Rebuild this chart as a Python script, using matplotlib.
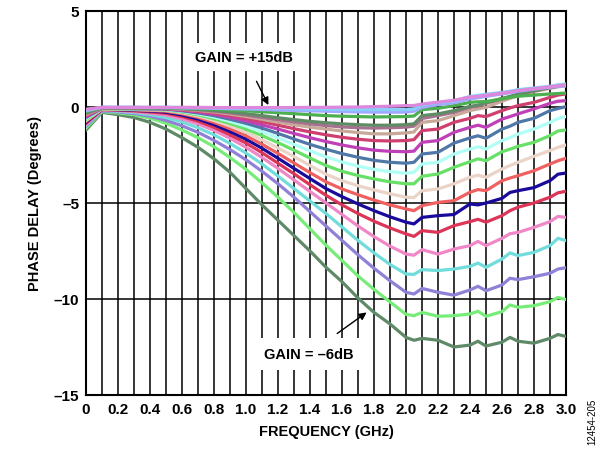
import numpy as np
import matplotlib.pyplot as plt

plt.rcParams['font.family'] = ['Liberation Sans', 'DejaVu Sans']

# frequency points (GHz)
freq = [0.0, 0.1, 0.2, 0.3, 0.4, 0.5, 0.6, 0.7, 0.8, 0.9, 1.0, 1.1, 1.2, 1.3, 1.4, 1.5,
        1.6, 1.7, 1.8, 1.9, 2.0, 2.05, 2.1, 2.2, 2.3, 2.4, 2.45, 2.5, 2.6, 2.65, 2.7,
        2.8, 2.9, 2.95, 3.0]

# phase delay (degrees), one list per gain setting, +15 dB down to -6 dB
g15 = [-0.12, -0.02, -0.02, -0.02, -0.02, -0.02, -0.02, -0.02, -0.03, -0.03, -0.03, -0.03, -0.03, -0.03, -0.02, -0.02,
       -0.01, 0.0, 0.02, 0.04, 0.07, 0.08, 0.15, 0.25, 0.35, 0.52, 0.55, 0.6, 0.72, 0.78, 0.85,
       0.95, 1.05, 1.1, 1.15]
g14 = [-0.15, -0.02, -0.02, -0.02, -0.02, -0.02, -0.03, -0.03, -0.04, -0.05, -0.06, -0.07, -0.08, -0.09, -0.11, -0.12,
       -0.13, -0.14, -0.14, -0.14, -0.14, -0.1, 0.1, 0.24, 0.3, 0.55, 0.6, 0.66, 0.76, 0.82, 0.9,
       0.99, 1.08, 1.15, 1.2]
g13 = [-0.2, -0.02, -0.02, -0.02, -0.03, -0.03, -0.04, -0.05, -0.07, -0.09, -0.11, -0.13, -0.16, -0.18, -0.2, -0.22,
       -0.24, -0.26, -0.27, -0.27, -0.27, -0.22, -0.02, 0.12, 0.22, 0.42, 0.48, 0.55, 0.68, 0.74, 0.82,
       0.93, 1.03, 1.07, 1.1]
g12 = [-0.25, -0.03, -0.03, -0.03, -0.04, -0.04, -0.06, -0.08, -0.11, -0.15, -0.2, -0.25, -0.3, -0.35, -0.4, -0.45,
       -0.48, -0.5, -0.52, -0.51, -0.5, -0.47, -0.14, -0.07, 0.07, 0.24, 0.27, 0.28, 0.42, 0.5, 0.56,
       0.62, 0.68, 0.7, 0.73]
g11 = [-0.3, -0.04, -0.04, -0.04, -0.05, -0.05, -0.08, -0.12, -0.18, -0.26, -0.35, -0.45, -0.56, -0.66, -0.75, -0.82,
       -0.88, -0.92, -0.95, -0.95, -0.92, -0.88, -0.45, -0.36, -0.19, 0.03, 0.1, 0.22, 0.45, 0.55, 0.68,
       0.85, 1.02, 1.1, 1.16]
g10 = [-0.35, -0.04, -0.05, -0.05, -0.06, -0.06, -0.1, -0.15, -0.22, -0.31, -0.42, -0.54, -0.66, -0.78, -0.88, -0.97,
       -1.04, -1.08, -1.1, -1.08, -1.05, -1.0, -0.6, -0.45, -0.28, -0.02, 0.05, 0.19, 0.42, 0.52, 0.63,
       0.84, 1.0, 1.08, 1.14]
g9 = [-0.4, -0.05, -0.05, -0.06, -0.06, -0.07, -0.12, -0.18, -0.26, -0.37, -0.5, -0.64, -0.79, -0.93, -1.05, -1.15,
      -1.25, -1.33, -1.4, -1.4, -1.35, -1.3, -0.8, -0.71, -0.45, -0.19, -0.1, -0.02, 0.3, 0.45, 0.59,
      0.8, 0.97, 1.05, 1.11]
g8 = [-0.45, -0.05, -0.06, -0.07, -0.07, -0.08, -0.14, -0.22, -0.32, -0.45, -0.6, -0.77, -0.95, -1.13, -1.3, -1.45,
      -1.58, -1.68, -1.75, -1.77, -1.75, -1.7, -1.23, -1.15, -0.8, -0.59, -0.45, -0.5, -0.19, -0.05, 0.07,
      0.24, 0.5, 0.62, 0.68]
g7 = [-0.5, -0.06, -0.07, -0.08, -0.09, -0.1, -0.17, -0.26, -0.38, -0.54, -0.72, -0.93, -1.15, -1.38, -1.6, -1.8,
      -1.98, -2.13, -2.25, -2.31, -2.33, -2.3, -1.84, -1.75, -1.32, -1.06, -0.95, -1.06, -0.63, -0.5, -0.36,
      -0.1, 0.19, 0.3, 0.33]
g6 = [-0.55, -0.07, -0.08, -0.09, -0.1, -0.11, -0.2, -0.31, -0.45, -0.64, -0.85, -1.1, -1.38, -1.67, -1.95, -2.2,
      -2.43, -2.62, -2.78, -2.88, -2.93, -2.88, -2.45, -2.36, -1.88, -1.61, -1.5, -1.63, -1.15, -1.0, -0.8,
      -0.59, -0.19, -0.08, 0.02]
g5 = [-0.6, -0.08, -0.09, -0.1, -0.11, -0.13, -0.23, -0.36, -0.53, -0.75, -1.0, -1.29, -1.61, -1.95, -2.28, -2.6,
      -2.87, -3.08, -3.25, -3.37, -3.45, -3.4, -2.97, -2.88, -2.45, -2.19, -2.07, -2.19, -1.75, -1.6, -1.41,
      -1.15, -0.8, -0.6, -0.5]
g4 = [-0.65, -0.09, -0.1, -0.11, -0.13, -0.15, -0.26, -0.41, -0.61, -0.86, -1.15, -1.49, -1.86, -2.25, -2.66, -3.05,
      -3.35, -3.57, -3.75, -3.9, -4.0, -4.0, -3.61, -3.49, -3.14, -2.85, -2.7, -2.8, -2.33, -2.2, -2.05,
      -1.84, -1.49, -1.25, -1.2]
g3 = [-0.7, -0.1, -0.11, -0.13, -0.15, -0.18, -0.3, -0.47, -0.7, -0.99, -1.32, -1.71, -2.14, -2.58, -3.05, -3.5,
      -3.84, -4.1, -4.32, -4.52, -4.7, -4.72, -4.36, -4.27, -4.0, -3.66, -3.55, -3.66, -3.23, -3.05, -2.88,
      -2.57, -2.27, -2.1, -1.98]
g2 = [-0.75, -0.11, -0.12, -0.15, -0.18, -0.22, -0.35, -0.54, -0.8, -1.13, -1.5, -1.94, -2.42, -2.92, -3.42, -3.9,
      -4.27, -4.57, -4.85, -5.1, -5.31, -5.4, -5.14, -4.97, -4.88, -4.44, -4.3, -4.36, -3.84, -3.7, -3.58,
      -3.32, -2.97, -2.8, -2.67]
g1 = [-0.8, -0.12, -0.14, -0.17, -0.21, -0.27, -0.42, -0.63, -0.92, -1.28, -1.68, -2.15, -2.67, -3.2, -3.73, -4.25,
      -4.67, -5.05, -5.4, -5.72, -6.0, -6.09, -5.75, -5.66, -5.6, -5.05, -5.1, -5.0, -4.76, -4.45, -4.36,
      -4.2, -3.84, -3.5, -3.44]
g0 = [-0.85, -0.14, -0.16, -0.2, -0.26, -0.33, -0.5, -0.74, -1.06, -1.45, -1.88, -2.38, -2.93, -3.48, -4.05, -4.6,
      -5.1, -5.55, -5.95, -6.3, -6.61, -6.74, -6.44, -6.53, -6.18, -5.97, -5.85, -6.0, -5.66, -5.4, -5.22,
      -5.0, -4.7, -4.47, -4.39]
gm1 = [-0.9, -0.16, -0.19, -0.24, -0.32, -0.42, -0.62, -0.88, -1.22, -1.63, -2.1, -2.63, -3.2, -3.8, -4.4, -5.0,
       -5.6, -6.2, -6.75, -7.25, -7.66, -7.72, -7.43, -7.66, -7.4, -7.22, -7.0, -7.22, -6.84, -6.6, -6.53,
       -6.27, -5.97, -5.7, -5.75]
gm2 = [-0.95, -0.18, -0.22, -0.29, -0.4, -0.55, -0.78, -1.08, -1.45, -1.9, -2.4, -2.97, -3.6, -4.25, -4.9, -5.55,
       -6.25, -6.95, -7.6, -8.2, -8.7, -8.72, -8.47, -8.52, -8.44, -8.3, -8.13, -8.35, -7.92, -7.6, -7.74,
       -7.57, -7.22, -6.84, -6.96]
gm3 = [-1.0, -0.21, -0.26, -0.34, -0.48, -0.7, -0.98, -1.32, -1.74, -2.22, -2.75, -3.35, -4.0, -4.7, -5.45, -6.2,
       -6.95, -7.7, -8.4, -9.05, -9.65, -9.74, -9.45, -9.65, -9.8, -9.53, -9.34, -9.57, -9.27, -8.92, -8.99,
       -8.84, -8.66, -8.44, -8.37]
gm4 = [-1.1, -0.24, -0.31, -0.4, -0.58, -0.85, -1.2, -1.6, -2.07, -2.63, -3.25, -3.95, -4.7, -5.5, -6.35, -7.2,
       -8.0, -8.8, -9.5, -10.15, -10.8, -10.87, -10.7, -10.9, -10.87, -10.78, -10.64, -10.9, -10.66, -10.31, -10.43,
       -10.35, -10.14, -9.92, -10.03]
gm5 = [-1.2, -0.28, -0.4, -0.55, -0.8, -1.15, -1.6, -2.1, -2.7, -3.4, -4.25, -5.1, -5.9, -6.7, -7.5, -8.35,
       -9.1, -9.95, -10.7, -11.3, -12.0, -12.15, -12.05, -12.15, -12.5, -12.4, -12.2, -12.45, -12.25, -12.0, -12.2,
       -12.3, -12.05, -11.85, -11.95]

curves = [gm5, gm4, gm3, gm2, gm1, g0, g1, g2, g3, g4, g5, g6, g7, g8, g9, g10, g11, g12, g13, g14, g15]
colors = ['#5F8A68', '#78EC78', '#9080D8', '#70DCDC', '#F088C8', '#DC3558', '#1A0A9C', '#F06060',
          '#EBD3C8', '#66E066', '#B0FFF5', '#4F78A8', '#C040B8', '#D0406E', '#C8A898', '#A8708F',
          '#5E8C64', '#4CAF50', '#A0A8FF', '#87CEFA', '#DD88DD']

xticks = [0, 0.2, 0.4, 0.6, 0.8, 1.0, 1.2, 1.4, 1.6, 1.8, 2.0, 2.2, 2.4, 2.6, 2.8, 3.0]
xticklabels = ['0', '0.2', '0.4', '0.6', '0.8', '1.0', '1.2', '1.4', '1.6', '1.8', '2.0',
               '2.2', '2.4', '2.6', '2.8', '3.0']
yticks = [5, 0, -5, -10, -15]
yticklabels = ['5', '0', '\u20135', '\u201310', '\u201315']

fig = plt.figure(figsize=(6.13, 4.52), dpi=100)
ax = fig.add_axes([0.1403, 0.1239, 0.783, 0.8496])

# grid
for gx in np.arange(0.1, 3.0, 0.1):
    ax.axvline(gx, color='black', lw=1.1, zorder=1)
for gy in [0, -5, -10]:
    ax.axhline(gy, color='black', lw=1.1, zorder=1)

for vals, c in zip(curves, colors):
    ax.plot(freq, vals, color=c, lw=2.3, solid_joinstyle='round', zorder=3)

ax.set_xlim(0, 3.0)
ax.set_ylim(-15, 5)
ax.set_xticks(xticks)
ax.set_xticklabels(xticklabels)
ax.set_yticks(yticks)
ax.set_yticklabels(yticklabels)
ax.tick_params(length=0, labelsize=11, pad=5)
for lab in ax.get_xticklabels() + ax.get_yticklabels():
    lab.set_fontweight('bold')
for s in ax.spines.values():
    s.set_linewidth(1.5)

ax.set_xlabel('FREQUENCY (GHz)', fontsize=10.5, fontweight='bold', labelpad=6)
ax.set_ylabel('PHASE DELAY (Degrees)', fontsize=10.5, fontweight='bold', labelpad=8)

ax.annotate('GAIN = +15dB', xy=(1.14, 0.1), xytext=(0.99, 2.6),
            ha='center', va='center', fontsize=10.5, fontweight='bold', zorder=5,
            bbox=dict(boxstyle='square,pad=0.5', fc='white', ec='none'),
            arrowprops=dict(arrowstyle='-|>', color='black', lw=1.0, shrinkA=8, shrinkB=0,
                            mutation_scale=11))
ax.annotate('GAIN = \u20136dB', xy=(1.754, -10.7), xytext=(1.39, -12.87),
            ha='center', va='center', fontsize=10.5, fontweight='bold', zorder=5,
            bbox=dict(boxstyle='square,pad=0.6', fc='white', ec='none'),
            arrowprops=dict(arrowstyle='-|>', color='black', lw=1.0, shrinkA=6, shrinkB=0,
                            mutation_scale=11))

fig.text(0.967, 0.066, '12454-205', rotation=90, fontsize=7, ha='center', va='center')

fig.savefig('out.png', dpi=100)
